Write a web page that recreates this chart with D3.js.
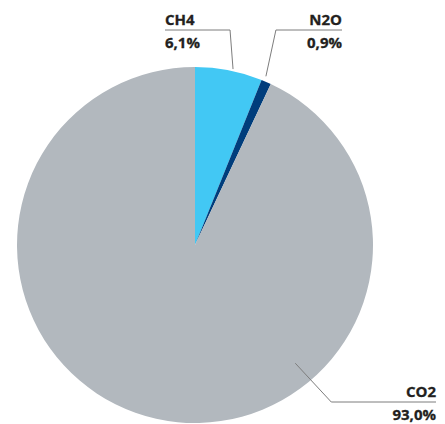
<!DOCTYPE html>
<html>
<head>
<meta charset="utf-8">
<script src="https://cdn.jsdelivr.net/npm/d3@7"></script>
<style>
  html, body { margin: 0; padding: 0; background: #fff; }
  svg { display: block; }
  .lbl { font-family: "Open Sans", "Noto Sans", sans-serif; font-weight: 700; font-size: 15px; fill: #231f20; stroke: #231f20; stroke-width: 0.3px; }
</style>
</head>
<body>
<svg id="chart" width="445" height="424"></svg>
<script>
// Greenhouse gas shares (%)
const gases = ["CH4", "N2O", "CO2"];
const shares = [6.1, 0.9, 93.0];
const shareLabels = ["6,1%", "0,9%", "93,0%"];
const colors = ["#42c8f4", "#003d7c", "#b2b8be"];

const W = 445, H = 424;
const cx = 195, cy = 245, R = 178;

// Callout layout per slice: anchor angle (deg from 12 o'clock), anchor radius,
// elbow offset in x, line height, line end x, text anchor
const callouts = {
  CH4: { deg: 12.2, rad: R + 2, dx: -3, lineY: 30, endX: 165, anchor: "start" },
  N2O: { deg: 22.8, rad: R + 5, dx: 10, lineY: 30, endX: 342, anchor: "end" },
  CO2: { deg: 139.7, rad: 155, dx: 36, lineY: 402, endX: 436, anchor: "end" }
};

const svg = d3.select("#chart");
const g = svg.append("g").attr("transform", `translate(${cx},${cy})`);

const data = gases.map((k, i) => ({ key: k, value: shares[i], label: shareLabels[i], color: colors[i] }));

const pie = d3.pie().sort(null).value(d => d.value).startAngle(0).endAngle(2 * Math.PI);
const arc = d3.arc().innerRadius(0).outerRadius(R);

g.selectAll("path.slice")
  .data(pie(data))
  .join("path")
  .attr("class", "slice")
  .attr("d", arc)
  .attr("fill", d => d.data.color);

// Leader lines and labels
const layer = svg.append("g");
data.forEach(d => {
  const c = callouts[d.key];
  const a = c.deg * Math.PI / 180;
  const sx = cx + c.rad * Math.sin(a);
  const sy = cy - c.rad * Math.cos(a);
  const ex = sx + c.dx;
  layer.append("polyline")
    .attr("points", `${sx},${sy} ${ex},${c.lineY} ${c.endX},${c.lineY}`)
    .attr("fill", "none")
    .attr("stroke", "#7d7d7d")
    .attr("stroke-width", 1);
  layer.append("text")
    .attr("class", "lbl")
    .attr("x", c.endX)
    .attr("y", c.lineY - 5.5)
    .attr("text-anchor", c.anchor)
    .text(d.key);
  layer.append("text")
    .attr("class", "lbl")
    .attr("x", c.endX)
    .attr("y", c.lineY + 18)
    .attr("text-anchor", c.anchor)
    .text(d.label);
});
</script>
</body>
</html>
